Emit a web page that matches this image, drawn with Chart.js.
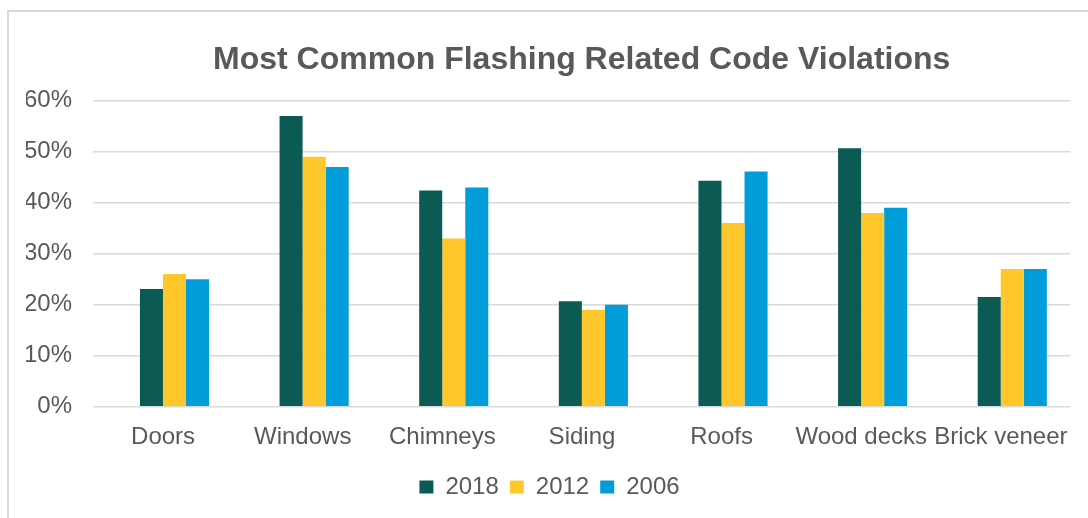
<!DOCTYPE html>
<html><head><meta charset="utf-8">
<script src="https://cdn.jsdelivr.net/npm/chart.js@4/dist/chart.umd.min.js"></script>
<style>
html,body{margin:0;padding:0;background:#fff;}
#wrap{position:relative;width:1088px;height:518px;overflow:hidden;}
#frame{position:absolute;left:7px;top:10px;width:1200px;height:600px;border:2px solid #d9d9d9;box-sizing:border-box;}
canvas{position:absolute;left:0;top:0;}
</style></head><body>
<div id="wrap"><div id="frame"></div><canvas id="c" width="1088" height="518"></canvas></div>
<script>
const title = 'Most Common Flashing Related Code Violations';
const categories = ['Doors', 'Windows', 'Chimneys', 'Siding', 'Roofs', 'Wood decks', 'Brick veneer'];
const seriesNames = ['2018', '2012', '2006'];
const values2018 = [23.1, 57, 42.4, 20.7, 44.3, 50.7, 21.5];
const values2012 = [26, 49, 33, 19, 36, 38, 27];
const values2006 = [25, 47, 43, 20, 46.1, 39, 27];
const yTicks = [0, 10, 20, 30, 40, 50, 60];

const colors = ['#0c5a54', '#ffc72c', '#009ddb'];
const textColor = '#595959';
const family = '"Liberation Sans", Arial, sans-serif';
const X_MIN = -0.5836;

const seriesValues = [values2018, values2012, values2006];
const datasets = seriesNames.map((name, k) => ({
  label: name,
  data: seriesValues[k].map((v, i) => ({x: i, y: v})),
  backgroundColor: colors[k],
  borderWidth: 0,
  categoryPercentage: 0.495,
  barPercentage: 1
}));

new Chart(document.getElementById('c'), {
  type: 'bar',
  data: { datasets },
  options: {
    responsive: false,
    animation: false,
    devicePixelRatio: 1,
    events: [],
    layout: { padding: { left: 26, right: 15, top: 0, bottom: 9 } },
    plugins: {
      tooltip: { enabled: false },
      title: {
        display: true, text: title, fullSize: false, color: textColor,
        font: { family, size: 32, weight: 'bold' },
        padding: { top: 40.8, bottom: 21.5 }
      },
      legend: {
        position: 'bottom',
        labels: {
          boxWidth: 14, boxHeight: 13, padding: 11, color: textColor,
          font: { family, size: 24 }
        }
      }
    },
    scales: {
      x: {
        type: 'linear',
        bounds: 'data',
        min: X_MIN,
        max: X_MIN + categories.length,
        offset: false,
        grid: { display: false },
        border: { display: false },
        afterBuildTicks: s => { s.ticks = categories.map((_, i) => ({ value: i })); },
        afterFit: s => { s.height = 57.3; },
        ticks: {
          autoSkip: false, maxRotation: 0, minRotation: 0,
          padding: 8, labelOffset: -11.4, color: textColor,
          font: { family, size: 24 },
          callback: v => categories[v]
        }
      },
      y: {
        min: yTicks[0],
        max: yTicks[yTicks.length - 1],
        afterBuildTicks: s => { s.ticks = yTicks.map(v => ({ value: v })); },
        afterFit: s => { s.width = 67; },
        grid: { color: '#d9d9d9', lineWidth: 1.5, drawTicks: false },
        border: { display: false },
        ticks: {
          padding: 21, color: textColor,
          font: { family, size: 24 },
          callback: v => v + '%'
        }
      }
    }
  }
});
</script>
</body></html>
